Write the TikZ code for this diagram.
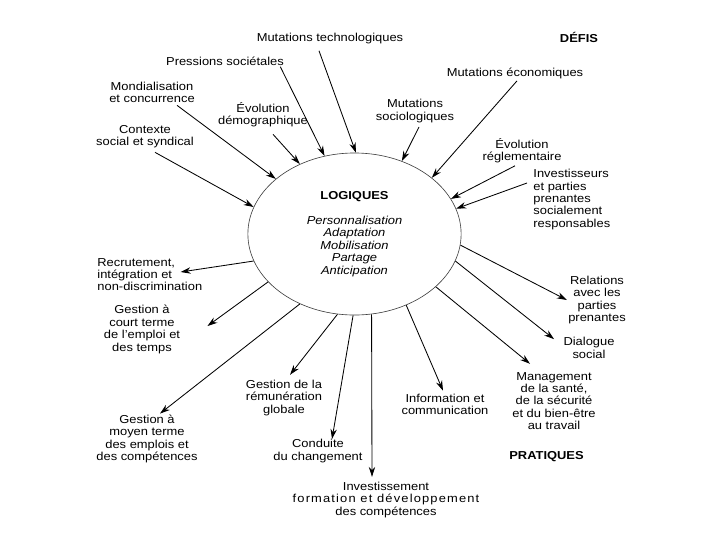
\documentclass[tikz,border=0pt]{standalone}
\usepackage{fontspec}
\setmainfont{Liberation Sans}[FakeStretch=1.12]
\usetikzlibrary{arrows.meta, positioning, shapes.geometric}
\tikzset{txt node/.style={align=center,inner sep=0pt,font=\fontsize{8.2}{8.8}\selectfont},
  head node/.style={txt node,font=\fontsize{8.2}{8.8}\selectfont\bfseries},
  logic node/.style={ellipse,draw=black!75,line width=0.45pt,minimum width=5.33cm,minimum height=4.05cm,
    align=center,inner sep=0pt,font=\fontsize{8.2}{8.8}\selectfont},}

\begin{document}
\begin{tikzpicture}[x=0.025cm, y=-0.025cm, line width=0.6pt, >={Stealth[length=2.5mm,width=1.6mm]}]
   \useasboundingbox (0,0) rectangle (720,540);
   % centre
   \node[logic node] (logiq) at (354.5,234) {\textbf{LOGIQUES}\\[9pt]
      \textit{Personnalisation}\\ \textit{Adaptation}\\ \textit{Mobilisation}\\
      \textit{Partage}\\ \textit{Anticipation}};
   % defis
   \node[head node] (defis) at (579,37) {DÉFIS};
   \node[txt node] (mtech) at (330,39) {Mutations technologiques};
   \node[txt node] (press) at (225,61) {Pressions sociétales};
   \node[txt node] (mond) at (152,92.5) {Mondialisation\\et concurrence};
   \node[txt node] (evdem) at (263,114.5) {Évolution\\démographique};
   \node[txt node] (ctx) at (145,136.5) {Contexte\\social et syndical};
   \node[txt node] (msoc) at (415,111) {Mutations\\sociologiques};
   \node[txt node] (meco) at (515,73) {Mutations économiques};
   \node[txt node] (evreg) at (522,150.5) {Évolution\\réglementaire};
   \node[txt node, align=left, anchor=west] (inv) at (533,199.5) {Investisseurs\\et parties\\prenantes\\socialement\\responsables};
   % pratiques
   \node[head node] (prat) at (546.5,457) {PRATIQUES};
   \node[txt node, align=left, anchor=west] (rec) at (97,274.5) {Recrutement,\\intégration et\\non-discrimination};
   \node[txt node] (gct) at (142,329.5) {Gestion à\\court terme\\de l’emploi et\\des temps};
   \node[txt node] (gmt) at (147,439) {Gestion à\\moyen terme\\des emplois et\\des compétences};
   \node[txt node] (grem) at (284,398) {Gestion de la\\rémunération\\globale};
   \node[txt node] (cond) at (318,451) {Conduite\\du changement};
   \node[txt node] (invest) at (386,500) {Investissement\\{\addfontfeatures{LetterSpace=10}formation et développement}\\des compétences};
   \node[txt node] (info) at (445,404.5) {Information et\\communication};
   \node[txt node] (mgmt) at (554,401) {Management\\de la santé,\\de la sécurité\\et du bien-être\\au travail};
   \node[txt node] (dial) at (589,348) {Dialogue\\social};
   \node[txt node] (rel) at (597,300) {Relations\\avec les\\parties\\prenantes};
   % incoming
   \path[->]
   ([shift={(-11,6)}]mtech.south) edge (logiq.89)
   ([shift={(-4,1)}]press.south east) edge (logiq.111)
   ([shift={(25,2)}]mond.south) edge (logiq.145)
   ([shift={(10,7)}]evdem.south) edge (logiq.128)
   ([shift={(10,4)}]ctx.south) edge (logiq.165)
   ([shift={(4,4)}]msoc.south) edge (logiq.57)
   ([shift={(2,2)}]meco.south) edge (logiq.36)
   ([shift={(-7,2.5)}]evreg.south) edge (logiq.20)
   ([shift={(-6,-16.5)}]inv.west) edge (logiq.14);
   % outgoing
   \path[->]
   (logiq.195) edge ([shift={(-22,-2.5)}]rec.east)
   (logiq.209) edge ([shift={(27,-3.5)}]gct.east)
   (logiq.232) edge ([shift={(13,-1)}]gmt.north)
   (logiq.258) edge ([shift={(6,-5)}]grem.north)
   (logiq.269) edge ([shift={(14,0)}]cond.north)
   (logiq.282) edge ([shift={(-14,-5)}]invest.north)
   (logiq.306) edge ([shift={(-2,-3)}]info.north)
   (logiq.327) edge ([shift={(-24,-8)}]mgmt.north)
   (logiq.345) edge ([shift={(-9,2)}]dial.north west)
   (logiq.354) edge ([shift={(-1,0)}]rel.west);
\end{tikzpicture}
\end{document}
